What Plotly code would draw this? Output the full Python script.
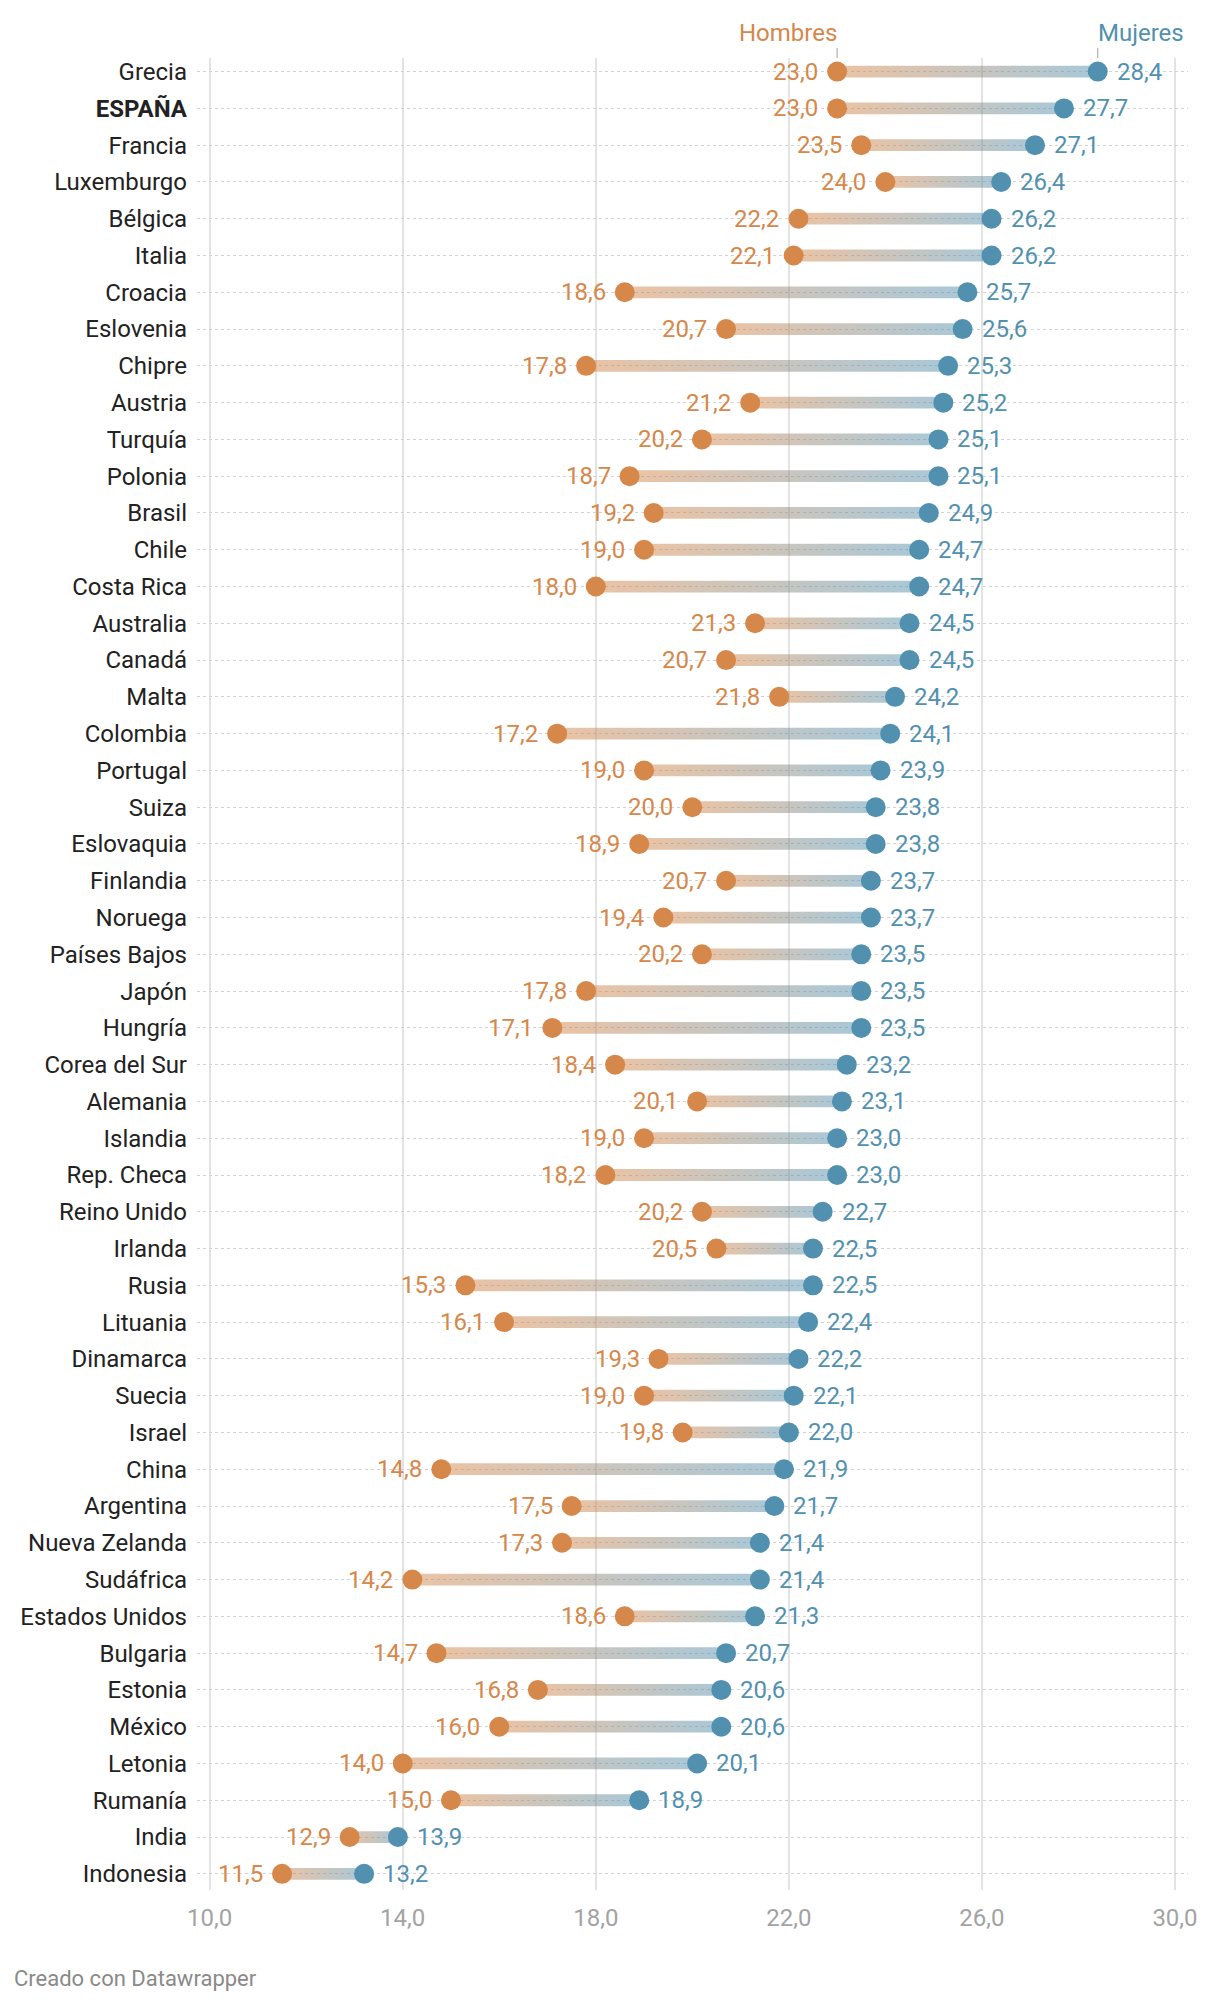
import plotly.graph_objects as go

countries = ["Grecia", "ESPAÑA", "Francia", "Luxemburgo", "Bélgica", "Italia", "Croacia",
             "Eslovenia", "Chipre", "Austria", "Turquía", "Polonia", "Brasil", "Chile",
             "Costa Rica", "Australia", "Canadá", "Malta", "Colombia", "Portugal", "Suiza",
             "Eslovaquia", "Finlandia", "Noruega", "Países Bajos", "Japón", "Hungría",
             "Corea del Sur", "Alemania", "Islandia", "Rep. Checa", "Reino Unido", "Irlanda",
             "Rusia", "Lituania", "Dinamarca", "Suecia", "Israel", "China", "Argentina",
             "Nueva Zelanda", "Sudáfrica", "Estados Unidos", "Bulgaria", "Estonia", "México",
             "Letonia", "Rumanía", "India", "Indonesia"]

hombres = [23.0, 23.0, 23.5, 24.0, 22.2, 22.1, 18.6, 20.7, 17.8, 21.2, 20.2, 18.7, 19.2, 19.0,
           18.0, 21.3, 20.7, 21.8, 17.2, 19.0, 20.0, 18.9, 20.7, 19.4, 20.2, 17.8, 17.1,
           18.4, 20.1, 19.0, 18.2, 20.2, 20.5, 15.3, 16.1, 19.3, 19.0, 19.8, 14.8, 17.5,
           17.3, 14.2, 18.6, 14.7, 16.8, 16.0, 14.0, 15.0, 12.9, 11.5]

mujeres = [28.4, 27.7, 27.1, 26.4, 26.2, 26.2, 25.7, 25.6, 25.3, 25.2, 25.1, 25.1, 24.9, 24.7,
           24.7, 24.5, 24.5, 24.2, 24.1, 23.9, 23.8, 23.8, 23.7, 23.7, 23.5, 23.5, 23.5,
           23.2, 23.1, 23.0, 23.0, 22.7, 22.5, 22.5, 22.4, 22.2, 22.1, 22.0, 21.9, 21.7,
           21.4, 21.4, 21.3, 20.7, 20.6, 20.6, 20.1, 18.9, 13.9, 13.2]

highlight = ["ESPAÑA"]

x_ticks = [10, 14, 18, 22, 26, 30]
x_ticktext = ["10,0", "14,0", "18,0", "22,0", "26,0", "30,0"]

series_names = ["Hombres", "Mujeres"]

ORANGE = "#d6874a"
BLUE = "#5290b0"
FONT = "Roboto"
FS = 24

W, H = 1220, 2002
OFF = 8  # page body margin
# target plot box on screen: left 194, right 1188, top 58, bottom 1890
ML = 194 - OFF
MT = 58 - OFF
MR = (W + OFF) - 1188
MB = (H + OFF) - 1890
plot_w = W - ML - MR
plot_h = H - MT - MB

n = len(countries)
idx = list(range(n))
bar_half = 0.16

fig = go.Figure()

# gradient bars
for i, (m, w) in enumerate(zip(hombres, mujeres)):
    lo, hi = min(m, w), max(m, w)
    fig.add_trace(go.Scatter(
        x=[lo, hi, hi, lo, lo],
        y=[i - bar_half, i - bar_half, i + bar_half, i + bar_half, i - bar_half],
        mode="lines", line=dict(width=0),
        fill="toself",
        fillgradient=dict(type="horizontal",
                          colorscale=[[0, "rgba(214,135,74,0.5)"],
                                      [1, "rgba(82,144,176,0.5)"]]),
        hoverinfo="skip", showlegend=False,
    ))

fig.add_trace(go.Scatter(x=hombres, y=idx, mode="markers", name=series_names[0],
                         marker=dict(size=20, color=ORANGE, line=dict(width=0)),
                         showlegend=False))
fig.add_trace(go.Scatter(x=mujeres, y=idx, mode="markers", name=series_names[1],
                         marker=dict(size=20, color=BLUE, line=dict(width=0)),
                         showlegend=False))

def fmt(v):
    return f"{v:.1f}".replace(".", ",")

annotations = []
for i, (m, w) in enumerate(zip(hombres, mujeres)):
    annotations.append(dict(x=m, y=i, xref="x", yref="y", text=fmt(m), showarrow=False,
                            xanchor="right", yanchor="middle", xshift=-17,
                            font=dict(family=FONT, size=FS, color=ORANGE)))
    annotations.append(dict(x=w, y=i, xref="x", yref="y", text=fmt(w), showarrow=False,
                            xanchor="left", yanchor="middle", xshift=17,
                            font=dict(family=FONT, size=FS, color=BLUE)))

# header labels
y_line_top = 1 + 10 / plot_h
y_head = 1 + 25 / plot_h
annotations.append(dict(x=hombres[0], y=y_head, xref="x", yref="paper", text=series_names[0],
                        showarrow=False, xanchor="right", yanchor="middle", xshift=2,
                        font=dict(family=FONT, size=FS, color=ORANGE)))
annotations.append(dict(x=mujeres[0], y=y_head, xref="x", yref="paper", text=series_names[1],
                        showarrow=False, xanchor="left", yanchor="middle", xshift=-2,
                        font=dict(family=FONT, size=FS, color=BLUE)))
# footer
annotations.append(dict(x=(8 - 194) / plot_w, y=-(1978 - 1890) / plot_h,
                        xref="paper", yref="paper", text="Creado con Datawrapper",
                        showarrow=False, xanchor="left", yanchor="middle",
                        font=dict(family=FONT, size=22, color="#8a8a8a")))

shapes = []
for v in (hombres[0], mujeres[0]):
    shapes.append(dict(type="line", xref="x", yref="paper", x0=v, x1=v, y0=1, y1=y_line_top,
                       line=dict(color="#a0a0a0", width=1)))

ticktext = [f"<b>{c}</b>" if c in highlight else c for c in countries]

fig.update_layout(
    width=W, height=H,
    margin=dict(l=ML, r=MR, t=MT, b=MB, pad=0),
    paper_bgcolor="white", plot_bgcolor="white",
    separators=",.",
    font=dict(family=FONT, size=FS, color="#222222"),
    hovermode=False,
    annotations=annotations,
    shapes=shapes,
    xaxis=dict(range=[9.738, 30.27], tickvals=x_ticks, ticktext=x_ticktext,
               showgrid=True, gridcolor="#e3e3e3", gridwidth=1.5, zeroline=False,
               showline=False, ticks="", ticklabelstandoff=11,
               tickfont=dict(family=FONT, size=FS, color="#a3a3a3")),
    yaxis=dict(range=[n - 1 + 0.44, -0.37], tickvals=idx, ticktext=ticktext,
               showgrid=True, gridcolor="#d2d2d2", griddash="dot", gridwidth=1,
               zeroline=False, showline=False, ticks="", ticklabelstandoff=9,
               tickfont=dict(family=FONT, size=FS, color="#222222")),
)

fig.write_html("out.html")
